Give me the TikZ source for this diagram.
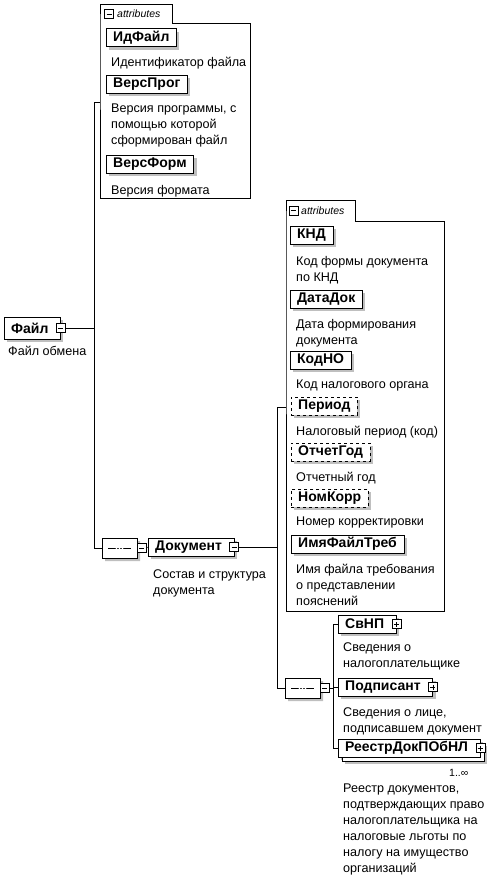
\documentclass[tikz,border=0pt]{standalone}
\usepackage{fontspec}
\setmainfont{Liberation Sans}
\usetikzlibrary{shapes.misc,shadows}

\tikzset{
  shade3/.style={preaction={fill=gray!50, draw=none, transform canvas={xshift=3pt, yshift=-3pt}}},
  elem/.style={draw, fill=white, anchor=west, font=\fontsize{14}{16}\selectfont\bfseries,
    minimum height=18pt, inner xsep=7pt, inner ysep=0pt, shade3},
  optelem/.style={elem, dashed},
  expelem/.style={elem, execute at end node={\hspace*{5pt}}},
  note/.style={anchor=north west, align=left, inner sep=0pt, font=\fontsize{12.6}{16}\selectfont},
  minusbox/.style={draw, fill=white, minimum size=9pt, inner sep=0pt,
    path picture={\draw ([xshift=2pt]path picture bounding box.west) -- ([xshift=-2pt]path picture bounding box.east);}},
  plusbox/.style={draw, fill=white, minimum size=9pt, inner sep=0pt,
    path picture={\draw ([xshift=2pt]path picture bounding box.west) -- ([xshift=-2pt]path picture bounding box.east);
      \draw ([yshift=2pt]path picture bounding box.south) -- ([yshift=-2pt]path picture bounding box.north);}},
  seqsym/.style={draw, fill=white, chamfered rectangle, chamfered rectangle xsep=5pt,
    minimum width=35pt, minimum height=20pt, inner sep=0pt, shade3,
    path picture={\draw ([xshift=6pt]path picture bounding box.west) -- ([xshift=-6pt]path picture bounding box.east);
      \foreach \dx in {-3,0,3} \fill ([xshift=\dx pt]path picture bounding box.center) circle (1.1pt);}},
  tablabel/.style={anchor=west, inner sep=0pt, font=\fontsize{10.5}{12}\selectfont\itshape},
}

\begin{document}
\begin{tikzpicture}[x=1pt, y=-1pt]
  \useasboundingbox (0,0) rectangle (498,884);

  % root
  \node[expelem, minimum height=22pt] (file) at (4,328) {Файл};
  \node[minusbox] (fileexp) at (file.east) {};
  \node[note] (filenote) at (8,346) {Файл обмена};

  % attributes of Файл
  \draw[fill=white] (100,23) -- (100,4) -- (172,4) -- (172,23) -- (250,23) -- (250,198) -- (100,198) -- cycle;
  \node[minusbox] (tabA) at (109,14) {};
  \node[tablabel] (tabAtext) at (117,14) {attributes};

  \node[elem] (idfile) at (106,37.5) {ИдФайл};
  \node[note] (idfilenote) at (111,57) {Идентификатор файла};
  \node[elem] (versprog) at (106,84) {ВерсПрог};
  \node[note] (versprognote) at (111,104) {Версия программы, с\\помощью которой\\сформирован файл};
  \node[elem] (versform) at (106,164) {ВерсФорм};
  \node[note] (versformnote) at (111,185) {Версия формата};

  % sequence under Файл
  \node[seqsym] (seqA) at (119.5,548) {};
  \node[minusbox] (seqAexp) at ([xshift=4.5pt]seqA.east) {};
  \node[expelem] (doc) at (148,547) {Документ};
  \node[minusbox] (docexp) at (doc.east) {};
  \node[note] (docnote) at (153,569) {Состав и структура\\документа};

  % attributes of Документ
  \draw[fill=white] (286,221) -- (286,200) -- (355,200) -- (355,221) -- (444,221) -- (444,611) -- (286,611) -- cycle;
  \node[minusbox] (tabB) at (293.5,210.5) {};
  \node[tablabel] (tabBtext) at (301,210.5) {attributes};

  \node[elem] (knd) at (290,235) {КНД};
  \node[note] (kndnote) at (296,256) {Код формы документа\\по КНД};
  \node[elem] (datadok) at (290,299) {ДатаДок};
  \node[note] (datadoknote) at (296,319) {Дата формирования\\документа};
  \node[elem] (kodno) at (290,360) {КодНО};
  \node[note] (kodnonote) at (296,380) {Код налогового органа};
  \node[optelem] (period) at (291,406) {Период};
  \node[note] (periodnote) at (296,426) {Налоговый период (код)};
  \node[optelem] (otchgod) at (291,452) {ОтчетГод};
  \node[note] (otchgodnote) at (296,472) {Отчетный год};
  \node[optelem] (nomkorr) at (291,498) {НомКорр};
  \node[note] (nomkorrnote) at (296,517) {Номер корректировки};
  \node[elem] (imyafile) at (291,544) {ИмяФайлТреб};
  \node[note] (imyafilenote) at (296,564) {Имя файла требования\\о представлении\\пояснений};

  % sequence under Документ
  \node[seqsym] (seqB) at (302.5,688) {};
  \node[minusbox] (seqBexp) at ([xshift=4.5pt]seqB.east) {};

  \node[expelem] (svnp) at (338,624) {СвНП};
  \node[plusbox] (svnpexp) at (svnp.east) {};
  \node[note] (svnpnote) at (343,642) {Сведения о\\налогоплательщике};
  \node[expelem, preaction={fill=gray!50, draw=none, transform canvas={xshift=7pt, yshift=-7pt}},
    preaction={fill=white, draw, transform canvas={xshift=4pt, yshift=-4pt}}] (reestr) at (338,748) {РеестрДокПОбНЛ};
  \node[plusbox] (reestrexp) at (reestr.east) {};
  \node[expelem] (podpis) at (338,687) {Подписант};
  \node[plusbox] (podpisexp) at (podpis.east) {};
  \node[note] (podpisnote) at (343,707) {Сведения о лице,\\подписавшем документ};
  \node[anchor=west, inner sep=0pt, font=\fontsize{10.5}{12}\selectfont] (reestrocc) at (449,773) {1..∞};
  \node[note] (reestrnote) at (343,784) {Реестр документов,\\подтверждающих право\\налогоплательщика на\\налоговые льготы по\\налогу на имущество\\организаций};

  % connectors
  \coordinate (attrA) at (100,102);
  \coordinate (trunkTop) at (94,102);
  \coordinate (trunkBot) at (94,548);
  \draw (fileexp.east) -- (fileexp.east -| trunkTop);
  \draw (attrA) -- (trunkTop) -- (trunkBot) -- (seqA.west);
  \draw (seqAexp.east) -- (doc.west);

  \coordinate (attrB) at (286,407);
  \coordinate (branchTop) at (277,407);
  \coordinate (branchBot) at (277,688);
  \draw (docexp.east) -- (docexp.east -| branchTop);
  \draw (attrB) -- (branchTop) -- (branchBot) -- (seqB.west);

  \coordinate (forkTop) at (333,624);
  \coordinate (forkBot) at (333,748);
  \draw (seqBexp.east) -- (seqBexp.east -| forkTop);
  \draw (svnp.west) -- (forkTop) -- (forkBot) -- (reestr.west);
  \draw (podpis.west) -- (podpis.west -| forkTop);
\end{tikzpicture}
\end{document}
